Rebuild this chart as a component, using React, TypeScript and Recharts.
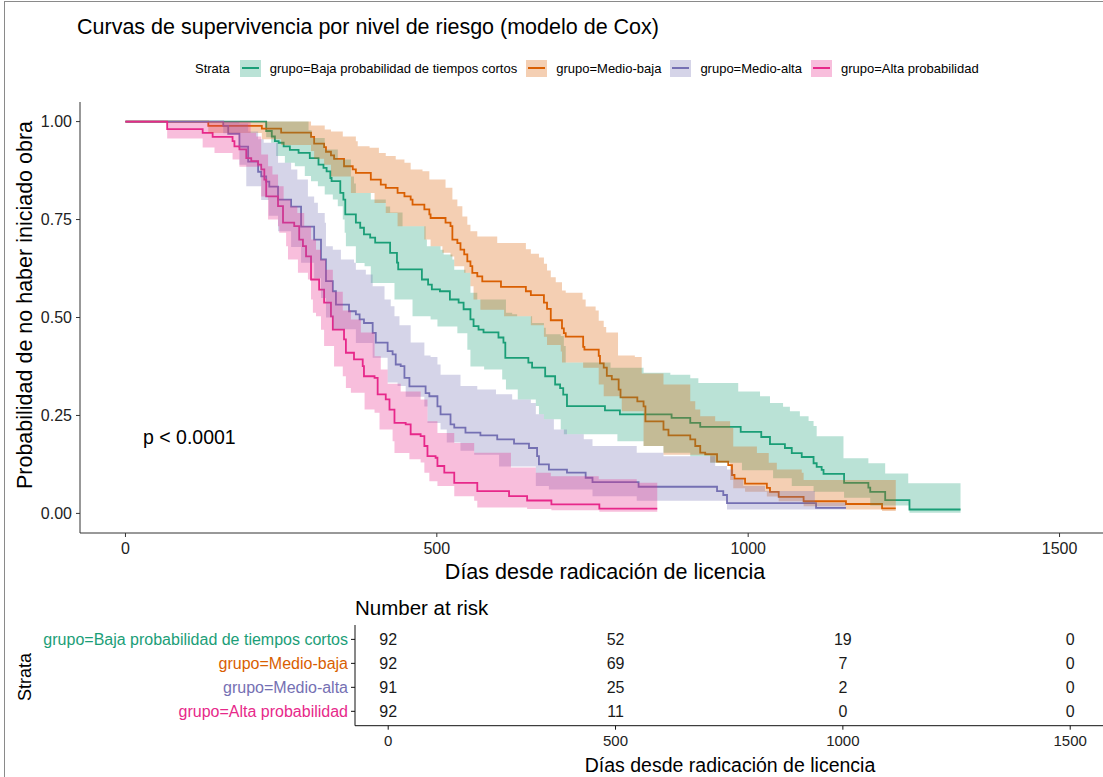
import React from "react";
import { ComposedChart, Line, Area, XAxis, YAxis, Scatter } from "recharts";

type Pt = [number, number];

const FONT = '"Liberation Sans", Arial, Helvetica, sans-serif';

const strata = [
  "grupo=Baja probabilidad de tiempos cortos",
  "grupo=Medio-baja",
  "grupo=Medio-alta",
  "grupo=Alta probabilidad",
];
const strataColors = ["#1B9E77", "#D95F02", "#7570B3", "#E7298A"];

// Kaplan-Meier steps [day, survival]
const bajaSurv: Pt[] = [
  [0, 1], [226, 0.976], [235, 0.962], [240, 0.95], [246, 0.946], [254, 0.937], [264, 0.928], [278, 0.92],
  [296, 0.907], [310, 0.89], [318, 0.882], [323, 0.873], [329, 0.856], [331, 0.848], [345, 0.818], [350, 0.801],
  [353, 0.763], [370, 0.742], [377, 0.729], [383, 0.712], [393, 0.704], [401, 0.691], [425, 0.665], [436, 0.64],
  [438, 0.623], [476, 0.597], [486, 0.584], [492, 0.572], [505, 0.567], [521, 0.546], [535, 0.538], [543, 0.521],
  [554, 0.495], [559, 0.478], [567, 0.469], [575, 0.462], [599, 0.449], [607, 0.436], [610, 0.397], [647, 0.385],
  [653, 0.372], [674, 0.35], [690, 0.329], [698, 0.32], [703, 0.303], [709, 0.274], [770, 0.263], [794, 0.253],
  [877, 0.244], [907, 0.231], [923, 0.221], [988, 0.208], [1021, 0.195], [1035, 0.177], [1059, 0.167], [1070, 0.154],
  [1086, 0.144], [1105, 0.128], [1110, 0.119], [1118, 0.111], [1121, 0.101], [1154, 0.078], [1193, 0.066],
  [1196, 0.055], [1220, 0.034], [1259, 0.01],
];
const bajaUpper: Pt[] = [
  [0, 1], [294, 0.978], [299, 0.958], [320, 0.929], [341, 0.903], [362, 0.86], [367, 0.842], [370, 0.818],
  [394, 0.801], [418, 0.783], [425, 0.768], [445, 0.733], [482, 0.699], [484, 0.682], [506, 0.673], [511, 0.661],
  [525, 0.648], [528, 0.622], [546, 0.614], [554, 0.563], [565, 0.546], [611, 0.512], [621, 0.508], [629, 0.503],
  [653, 0.486], [672, 0.474], [675, 0.457], [699, 0.453], [704, 0.427], [707, 0.385], [779, 0.372], [832, 0.359],
  [875, 0.354], [907, 0.345], [920, 0.333], [984, 0.311], [1019, 0.299], [1035, 0.282], [1056, 0.272],
  [1067, 0.261], [1083, 0.248], [1097, 0.236], [1105, 0.223], [1110, 0.197], [1153, 0.141], [1193, 0.128],
  [1220, 0.102], [1257, 0.077],
];
const bajaLower: Pt[] = [
  [0, 1], [226, 0.96], [234, 0.946], [242, 0.912], [256, 0.895], [272, 0.886], [288, 0.861], [298, 0.848],
  [309, 0.835], [320, 0.814], [333, 0.801], [341, 0.784], [349, 0.75], [352, 0.716], [354, 0.682], [370, 0.639],
  [384, 0.631], [394, 0.588], [432, 0.546], [461, 0.503], [490, 0.495], [501, 0.477], [533, 0.46], [549, 0.418],
  [554, 0.375], [576, 0.367], [605, 0.342], [611, 0.316], [630, 0.291], [659, 0.274], [664, 0.253], [672, 0.24],
  [699, 0.214], [704, 0.202], [790, 0.184], [832, 0.172], [864, 0.155], [907, 0.146], [939, 0.129], [990, 0.11],
  [1040, 0.09], [1070, 0.07], [1105, 0.055], [1154, 0.04], [1196, 0.02], [1259, 0.002],
];

const medioBajaSurv: Pt[] = [
  [0, 1], [133, 0.989], [219, 0.982], [250, 0.972], [298, 0.961], [303, 0.944], [319, 0.935], [322, 0.923],
  [330, 0.914], [335, 0.905], [351, 0.886], [365, 0.878], [370, 0.869], [394, 0.852], [410, 0.839], [418, 0.831],
  [437, 0.818], [448, 0.809], [458, 0.801], [461, 0.788], [480, 0.776], [488, 0.763], [490, 0.754], [514, 0.742],
  [522, 0.733], [525, 0.699], [533, 0.69], [538, 0.673], [544, 0.661], [549, 0.643], [554, 0.631], [557, 0.614],
  [565, 0.605], [573, 0.592], [603, 0.578], [643, 0.567], [651, 0.557], [672, 0.538], [677, 0.522], [683, 0.493],
  [701, 0.472], [704, 0.46], [707, 0.451], [735, 0.425], [737, 0.418], [760, 0.402], [762, 0.383], [768, 0.372],
  [773, 0.351], [781, 0.342], [792, 0.316], [795, 0.296], [822, 0.286], [832, 0.273], [835, 0.235], [864, 0.214],
  [872, 0.199], [907, 0.189], [915, 0.172], [923, 0.155], [931, 0.151], [950, 0.132], [968, 0.123], [974, 0.098],
  [978, 0.089], [995, 0.076], [1030, 0.065], [1035, 0.055], [1049, 0.042], [1089, 0.031], [1157, 0.024],
  [1215, 0.013],
];
const medioBajaUpper: Pt[] = [
  [0, 1], [298, 0.99], [320, 0.98], [330, 0.975], [349, 0.962], [370, 0.95], [373, 0.937], [392, 0.933],
  [407, 0.92], [418, 0.912], [434, 0.903], [448, 0.895], [458, 0.878], [477, 0.873], [488, 0.852], [514, 0.831],
  [525, 0.801], [533, 0.784], [541, 0.758], [549, 0.737], [554, 0.72], [565, 0.707], [597, 0.69], [643, 0.674],
  [651, 0.663], [664, 0.653], [672, 0.637], [677, 0.62], [683, 0.603], [691, 0.59], [701, 0.569], [707, 0.563],
  [734, 0.546], [739, 0.528], [755, 0.518], [760, 0.492], [768, 0.476], [772, 0.462], [791, 0.403], [818, 0.399],
  [829, 0.357], [864, 0.329], [907, 0.286], [915, 0.265], [923, 0.248], [947, 0.235], [971, 0.218], [976, 0.171],
  [1014, 0.154], [1033, 0.129], [1046, 0.112], [1086, 0.104], [1089, 0.085],
];
const medioBajaLower: Pt[] = [
  [0, 1], [133, 0.971], [219, 0.955], [250, 0.94], [298, 0.925], [303, 0.905], [319, 0.89], [330, 0.86],
  [362, 0.818], [400, 0.792], [418, 0.767], [437, 0.733], [480, 0.699], [490, 0.682], [509, 0.665], [522, 0.656],
  [528, 0.631], [544, 0.614], [554, 0.58], [559, 0.546], [570, 0.52], [608, 0.503], [651, 0.48], [672, 0.451],
  [677, 0.43], [699, 0.413], [701, 0.385], [735, 0.372], [760, 0.329], [768, 0.299], [797, 0.261], [832, 0.172],
  [864, 0.15], [939, 0.13], [971, 0.085], [976, 0.064], [995, 0.055], [1030, 0.043], [1049, 0.031],
  [1089, 0.018], [1157, 0.01], [1215, 0.006],
];

const medioAltaSurv: Pt[] = [
  [0, 1], [157, 0.989], [165, 0.969], [183, 0.936], [197, 0.898], [213, 0.872], [218, 0.86], [226, 0.847],
  [231, 0.834], [245, 0.801], [266, 0.783], [282, 0.732], [303, 0.699], [314, 0.648], [322, 0.593], [333, 0.567],
  [338, 0.533], [359, 0.516], [370, 0.508], [376, 0.495], [383, 0.486], [397, 0.461], [402, 0.436], [421, 0.414],
  [429, 0.406], [434, 0.38], [442, 0.376], [448, 0.346], [456, 0.324], [482, 0.307], [488, 0.299], [501, 0.273],
  [506, 0.253], [522, 0.227], [528, 0.219], [546, 0.206], [570, 0.199], [597, 0.189], [624, 0.178], [648, 0.167],
  [661, 0.146], [664, 0.125], [680, 0.112], [709, 0.104], [739, 0.091], [750, 0.08], [824, 0.068], [950, 0.057],
  [960, 0.047], [966, 0.026], [1109, 0.014],
];
const medioAltaUpper: Pt[] = [
  [0, 1], [183, 0.995], [197, 0.975], [213, 0.955], [222, 0.946], [245, 0.895], [266, 0.878], [276, 0.852],
  [293, 0.809], [303, 0.793], [309, 0.767], [320, 0.742], [322, 0.682], [333, 0.673], [346, 0.648], [367, 0.64],
  [370, 0.622], [386, 0.61], [397, 0.58], [416, 0.546], [426, 0.529], [432, 0.503], [440, 0.48], [458, 0.436],
  [480, 0.403], [490, 0.399], [501, 0.38], [506, 0.354], [538, 0.325], [565, 0.316], [595, 0.304], [621, 0.291],
  [651, 0.282], [659, 0.253], [672, 0.24], [688, 0.214], [709, 0.202], [736, 0.189], [750, 0.172], [821, 0.155],
  [864, 0.146], [947, 0.121], [966, 0.112], [976, 0.087], [992, 0.07], [1027, 0.057], [1107, 0.027],
];
const medioAltaLower: Pt[] = [
  [0, 1], [157, 0.97], [183, 0.89], [194, 0.835], [218, 0.8], [230, 0.76], [245, 0.72], [266, 0.68],
  [282, 0.64], [303, 0.6], [314, 0.55], [322, 0.5], [333, 0.47], [370, 0.435], [397, 0.397], [421, 0.334],
  [437, 0.325], [450, 0.298], [480, 0.273], [485, 0.231], [506, 0.214], [516, 0.181], [538, 0.16], [560, 0.15],
  [600, 0.12], [659, 0.07], [680, 0.061], [750, 0.044], [821, 0.032], [966, 0.01],
];

const altaSurv: Pt[] = [
  [0, 1], [67, 0.981], [124, 0.971], [140, 0.961], [172, 0.95], [175, 0.937], [183, 0.929], [194, 0.907],
  [202, 0.899], [213, 0.89], [218, 0.878], [223, 0.852], [226, 0.809], [245, 0.784], [253, 0.742], [271, 0.733],
  [279, 0.699], [285, 0.682], [290, 0.656], [298, 0.597], [311, 0.571], [319, 0.538], [330, 0.503], [333, 0.469],
  [351, 0.444], [354, 0.41], [367, 0.393], [381, 0.376], [383, 0.35], [400, 0.346], [405, 0.304], [418, 0.291],
  [424, 0.265], [432, 0.231], [450, 0.227], [458, 0.202], [474, 0.197], [480, 0.172], [485, 0.146], [498, 0.142],
  [501, 0.121], [512, 0.104], [528, 0.078], [565, 0.057], [616, 0.044], [645, 0.033], [684, 0.023], [761, 0.012],
];
const altaUpper: Pt[] = [
  [0, 1], [201, 0.971], [210, 0.962], [218, 0.916], [229, 0.886], [236, 0.865], [245, 0.835], [254, 0.801],
  [265, 0.783], [276, 0.767], [287, 0.733], [298, 0.699], [306, 0.673], [314, 0.648], [322, 0.622], [333, 0.566],
  [349, 0.518], [362, 0.495], [378, 0.462], [400, 0.401], [410, 0.367], [421, 0.331], [442, 0.311], [474, 0.291],
  [485, 0.235], [501, 0.205], [528, 0.18], [560, 0.155], [619, 0.117], [659, 0.104], [683, 0.095], [760, 0.087],
  [821, 0.078],
];
const altaLower: Pt[] = [
  [0, 1], [67, 0.957], [124, 0.934], [143, 0.92], [172, 0.903], [183, 0.885], [218, 0.809], [229, 0.75],
  [245, 0.733], [247, 0.716], [258, 0.682], [261, 0.648], [277, 0.614], [293, 0.597], [298, 0.546], [301, 0.512],
  [306, 0.503], [314, 0.469], [319, 0.427], [335, 0.375], [349, 0.35], [354, 0.32], [362, 0.308], [384, 0.265],
  [400, 0.257], [408, 0.214], [429, 0.184], [432, 0.154], [456, 0.138], [474, 0.13], [480, 0.104], [488, 0.082],
  [501, 0.07], [528, 0.044], [560, 0.032], [565, 0.015], [645, 0.011], [684, 0.008], [761, 0.004],
];

// last follow-up day of each group
const lastDay = [1341, 1237, 1157, 854];

// number at risk
const riskTimes = [0, 500, 1000, 1500];
const riskBaja = [92, 52, 19, 0];
const riskMedioBaja = [92, 69, 7, 0];
const riskMedioAlta = [91, 25, 2, 0];
const riskAlta = [92, 11, 0, 0];

const xTicks = [0, 500, 1000, 1500];
const yTicks = [0, 0.25, 0.5, 0.75, 1];

function valueAt(steps: Pt[], t: number) {
  let v = steps[0][1];
  for (const [x, y] of steps) {
    if (x <= t) v = y;
    else break;
  }
  return v;
}

function curveRows(steps: Pt[], end: number) {
  const rows = steps.map(([t, s]) => ({ t, s }));
  rows.push({ t: end, s: steps[steps.length - 1][1] });
  return rows;
}

function bandRows(upper: Pt[], lower: Pt[], end: number) {
  const times = Array.from(new Set([...upper.map((p) => p[0]), ...lower.map((p) => p[0]), end]))
    .filter((t) => t <= end)
    .sort((a, b) => a - b);
  return times.map((t) => ({ t, band: [valueAt(lower, t), valueAt(upper, t)] }));
}

const groups = [
  { surv: bajaSurv, upper: bajaUpper, lower: bajaLower },
  { surv: medioBajaSurv, upper: medioBajaUpper, lower: medioBajaLower },
  { surv: medioAltaSurv, upper: medioAltaUpper, lower: medioAltaLower },
  { surv: altaSurv, upper: altaUpper, lower: altaLower },
].map((g, i) => ({
  ...g,
  name: strata[i],
  color: strataColors[i],
  line: curveRows(g.surv, lastDay[i]),
  band: bandRows(g.upper, g.lower, lastDay[i]),
}));

const riskRows = [riskBaja, riskMedioBaja, riskMedioAlta, riskAlta].flatMap((counts, row) =>
  riskTimes.map((t, k) => ({ t, row, n: counts[k] }))
);

const axisColor = "#333333";

function RiskTick(props: any) {
  const { x, y, payload } = props;
  return (
    <text x={x} y={y} dy="0.35em" textAnchor="end" fill={strataColors[payload.value]} fontSize={16} fontFamily={FONT}>
      {strata[payload.value]}
    </text>
  );
}

function RiskCount(props: any) {
  const { cx, cy, payload } = props;
  return (
    <text x={cx} y={cy} dy="0.35em" textAnchor="middle" fill="#1a1a1a" fontSize={16} fontFamily={FONT}>
      {payload.n}
    </text>
  );
}

export default function App() {
  return (
    <div
      style={{
        position: "absolute",
        left: 0,
        top: 0,
        width: 1103,
        height: 777,
        overflow: "hidden",
        background: "#fff",
        fontFamily: FONT,
        color: "#000",
      }}
    >
      <div style={{ position: "absolute", left: 4, top: 1, right: 0, bottom: 0, borderTop: "1.5px solid #8a8a8a", borderLeft: "1.5px solid #8a8a8a" }} />

      <div style={{ position: "absolute", left: 77, top: 15, fontSize: 21.5, whiteSpace: "nowrap" }}>
        Curvas de supervivencia por nivel de riesgo (modelo de Cox)
      </div>

      <div style={{ position: "absolute", left: 195, top: 59, height: 18, display: "flex", alignItems: "center", fontSize: 13, whiteSpace: "nowrap" }}>
        <span style={{ marginRight: 10 }}>Strata</span>
        {groups.map((g) => (
          <React.Fragment key={g.name}>
            <span style={{ position: "relative", width: 21, height: 17, marginRight: 9, background: g.color + "4D" }}>
              <span style={{ position: "absolute", left: 2, right: 2, top: 7.5, height: 2, background: g.color }} />
            </span>
            <span style={{ marginRight: 9 }}>{g.name}</span>
          </React.Fragment>
        ))}
      </div>

      <div style={{ position: "absolute", left: 0, top: 0 }}>
        <ComposedChart width={1110} height={600} margin={{ top: 102, right: 5, bottom: 37, left: 20 }}>
          <XAxis
            type="number"
            dataKey="t"
            domain={[-73, 1573]}
            ticks={xTicks}
            interval={0}
            allowDataOverflow
            height={30}
            tickSize={4}
            tickMargin={6}
            stroke={axisColor}
            tick={{ fill: "#222", fontSize: 16, fontFamily: FONT }}
          />
          <YAxis
            type="number"
            domain={[-0.05, 1.05]}
            ticks={yTicks}
            interval={0}
            allowDataOverflow
            width={60}
            tickSize={4}
            tickMargin={4}
            stroke={axisColor}
            tickFormatter={(v: number) => v.toFixed(2)}
            tick={{ fill: "#222", fontSize: 16, fontFamily: FONT }}
          />
          {groups.map((g) => (
            <Line
              key={"l" + g.name}
              data={g.line}
              dataKey="s"
              type="stepAfter"
              stroke={g.color}
              strokeWidth={1.8}
              dot={false}
              activeDot={false}
              isAnimationActive={false}
            />
          ))}
          {groups.map((g) => (
            <Area
              key={"a" + g.name}
              data={g.band}
              dataKey="band"
              type="stepAfter"
              fill={g.color}
              fillOpacity={0.3}
              stroke="none"
              dot={false}
              activeDot={false}
              isAnimationActive={false}
              zIndex={450}
            />
          ))}
        </ComposedChart>
      </div>

      <div style={{ position: "absolute", left: 143, top: 426, fontSize: 19.5, whiteSpace: "nowrap" }}>p &lt; 0.0001</div>

      <div
        style={{
          position: "absolute",
          left: 25,
          top: 305,
          fontSize: 21.5,
          whiteSpace: "nowrap",
          transform: "translate(-50%, -50%) rotate(-90deg)",
        }}
      >
        Probabilidad de no haber iniciado obra
      </div>
      <div style={{ position: "absolute", left: 605, top: 572, fontSize: 21.5, whiteSpace: "nowrap", transform: "translate(-50%, -50%)" }}>
        Días desde radicación de licencia
      </div>

      <div style={{ position: "absolute", left: 355, top: 608, fontSize: 20.5, whiteSpace: "nowrap", transform: "translateY(-50%)" }}>
        Number at risk
      </div>

      <div style={{ position: "absolute", left: 0, top: 590 }}>
        <ComposedChart width={1110} height={187} margin={{ top: 35, right: 6.6, bottom: 21.3, left: 55 }}>
          <XAxis
            type="number"
            dataKey="t"
            domain={[-73, 1573]}
            ticks={xTicks}
            interval={0}
            allowDataOverflow
            height={30}
            tickSize={4}
            tickMargin={6}
            stroke="#111"
            tick={{ fill: "#222", fontSize: 15, fontFamily: FONT }}
          />
          <YAxis
            type="number"
            dataKey="row"
            domain={[-0.6, 3.6]}
            ticks={[0, 1, 2, 3]}
            interval={0}
            reversed
            width={300}
            tickSize={4}
            tickMargin={3}
            stroke="#111"
            tick={<RiskTick />}
          />
          <Scatter data={riskRows} dataKey="row" shape={<RiskCount />} isAnimationActive={false} />
        </ComposedChart>
      </div>

      <div
        style={{
          position: "absolute",
          left: 25,
          top: 677,
          fontSize: 18,
          whiteSpace: "nowrap",
          transform: "translate(-50%, -50%) rotate(-90deg)",
        }}
      >
        Strata
      </div>
      <div style={{ position: "absolute", left: 730, top: 765, fontSize: 19.5, whiteSpace: "nowrap", transform: "translate(-50%, -50%)" }}>
        Días desde radicación de licencia
      </div>
    </div>
  );
}
